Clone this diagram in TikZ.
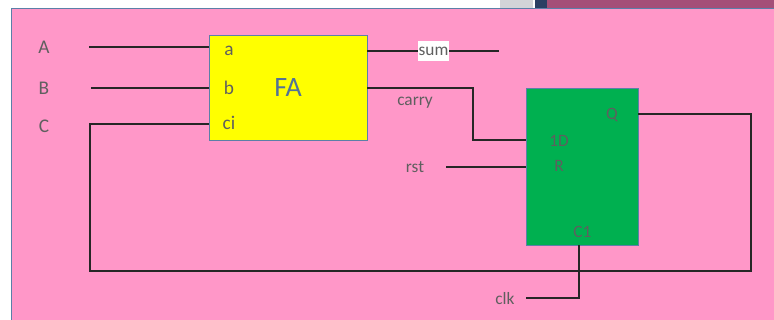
\documentclass[tikz,border=0pt]{standalone}
\usepackage{fontspec}
\setmainfont{Carlito}
\usetikzlibrary{positioning,calc}
\definecolor{pinkbg}{HTML}{FF97C8}
\definecolor{edgeblue}{HTML}{5B7FA8}
\definecolor{txtgray}{HTML}{5F5F5F}
\definecolor{ffgreen}{HTML}{00B050}
\definecolor{fayellow}{HTML}{FFFF00}
\definecolor{plumbar}{HTML}{A44F78}
\definecolor{navybar}{HTML}{2B3F63}
\definecolor{greybar}{HTML}{D2D4D8}
\begin{document}
\begin{tikzpicture}[
    x=0.75pt, y=-0.75pt,
    block/.style={draw=edgeblue, line width=0.75pt, inner sep=0pt, anchor=north west},
    lbl/.style={text=txtgray, font=\fontsize{13pt}{15pt}\selectfont, inner sep=0pt},
    biglbl/.style={text=txtgray, font=\fontsize{14.5pt}{16pt}\selectfont, inner sep=0pt},
    wire/.style={line width=1pt, black!85}
]
\useasboundingbox (0,0) rectangle (774,320);
\fill[white] (0,0) rectangle (774,320);
\fill[greybar] (500,0) rectangle (533,8);
\fill[navybar] (535,0) rectangle (547,8);
\fill[plumbar] (547,0) rectangle (774,8);
\filldraw[draw=edgeblue, fill=pinkbg, line width=0.75pt] (11,9) rectangle (780,326);

\node[block, fill=fayellow, minimum width=118.5pt, minimum height=78.75pt] (fa) at (209,35) {};
\node[block, fill=ffgreen, minimum width=84pt, minimum height=117.75pt] (ff) at (525.5,88) {};

\node[text=edgeblue!90!black, font=\fontsize{21pt}{23pt}\selectfont, inner sep=0pt] (falbl) at (288,88) {FA};
\node[biglbl] (pina) at (229,50.5) {a};
\node[biglbl] (pinb) at (229,88) {b};
\node[biglbl] (pinci) at (229,123) {ci};
\node[biglbl] (inA) at (44,47) {A};
\node[biglbl] (inB) at (44,88) {B};
\node[biglbl] (inC) at (44,126) {C};
\node[lbl] (carry) at (415,103) {carry};
\node[lbl] (rst) at (415,167) {rst};
\node[lbl] (clk) at (505,299) {clk};
\node[lbl] (pinq) at (612,115) {Q};
\node[lbl] (pind) at (559,141) {1D};
\node[lbl] (pinr) at (559,166) {R};
\node[lbl] (pinc) at (582.5,232) {C1};

\coordinate (startA) at (89,47);
\coordinate (startB) at (91,88);
\coordinate (startC) at (90,124);
\coordinate (startrst) at (446,167);
\coordinate (startclk) at (526,298);
\coordinate (endsum) at (499,51);
\coordinate (faout) at (367,51);
\coordinate (facarry) at (367,88);
\coordinate (ffd) at (526,140);
\coordinate (ffq) at (638,114);
\coordinate (ffc) at (579,245);

\draw[wire] (startA) -- (startA -| fa.west);
\draw[wire] (startB) -- (startB -| fa.west);
\draw[wire] (fa.west |- startC) -- (startC) -- (90,271) -- (751,271) -- (751,114) -- (ffq);
\draw[wire] (facarry) -- (473,88) -- (473,140) -- (ffd);
\draw[wire] (startrst) -- (startrst -| ff.west);
\draw[wire] (ffc) -- (579,298) -- (startclk);
\draw[wire] (faout) -- (endsum);
\node[lbl, fill=white, minimum width=23.25pt, minimum height=15pt] (sum) at (433.5,51) {sum};
\end{tikzpicture}
\end{document}
